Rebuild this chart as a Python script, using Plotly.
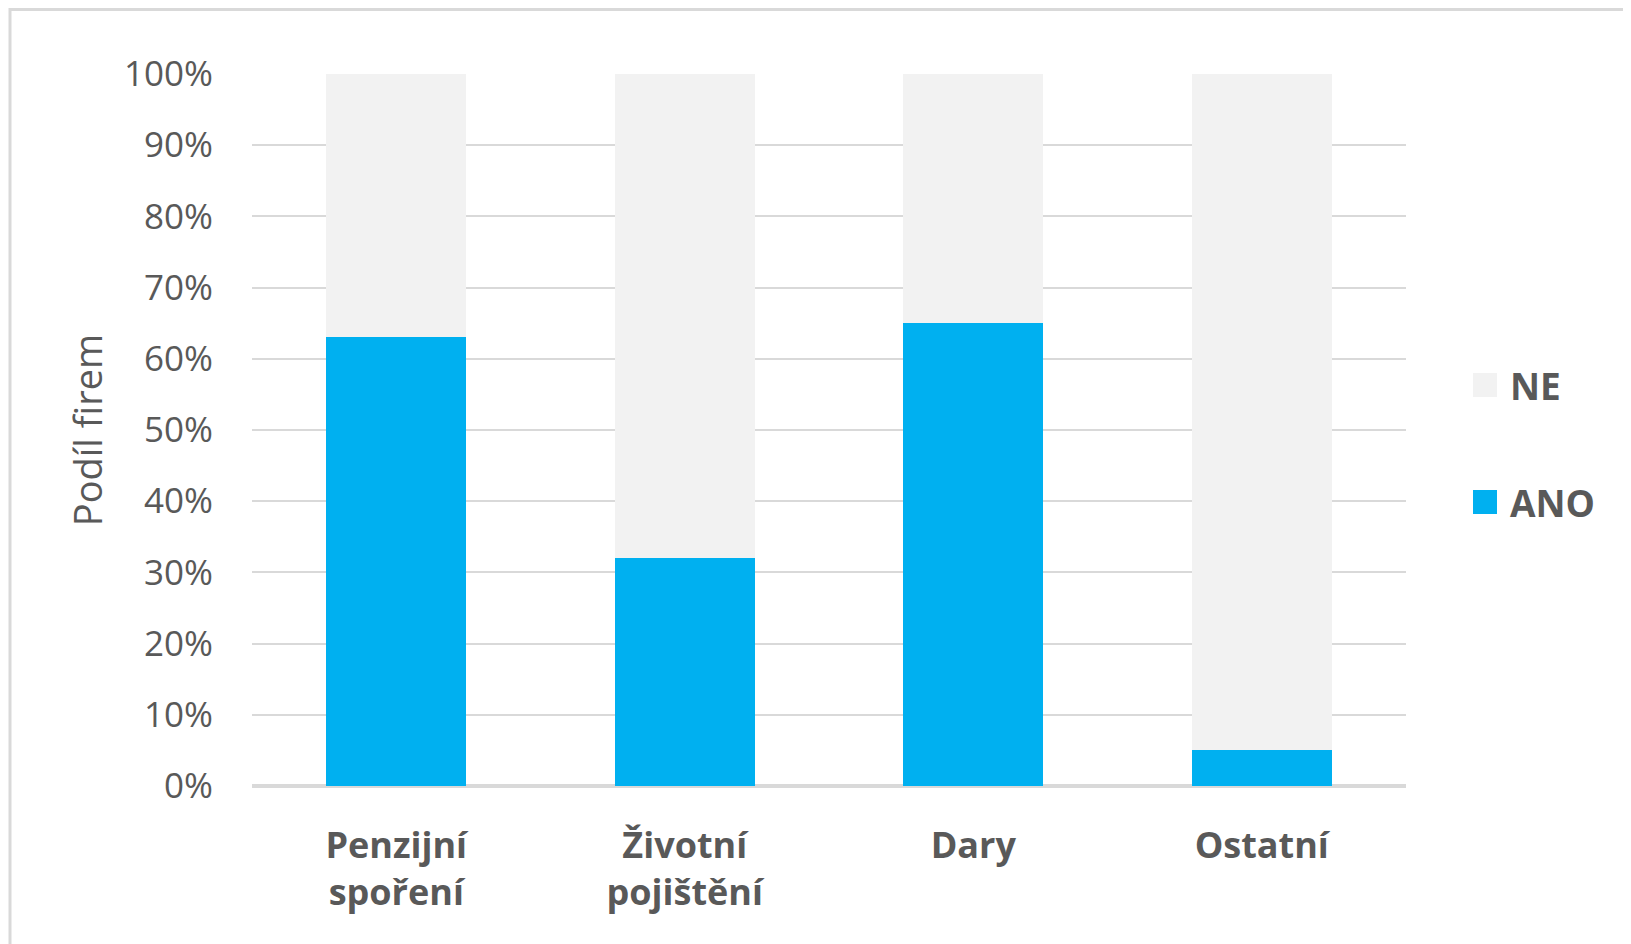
import plotly.graph_objects as go

categories = ["Penzijní<br>spoření", "Životní<br>pojištění", "Dary", "Ostatní"]
ano = [0.63, 0.32, 0.65, 0.05]
ne = [1 - v for v in ano]
series_names = ["NE", "ANO"]
tick_vals = [0, 0.1, 0.2, 0.3, 0.4, 0.5, 0.6, 0.7, 0.8, 0.9, 1.0]
tick_text = ["0%", "10%", "20%", "30%", "40%", "50%", "60%", "70%", "80%", "90%", "100%"]

C_ANO = "#00B0F0"
C_NE = "#F2F2F2"
TXT = "#595959"
GRID = "#D9D9D9"
FONT = "Open Sans"
series_colors = {"NE": C_NE, "ANO": C_ANO}

W, H = 1631, 944
OFF = 8  # page body margin offset
L, R, T, B = 252 - OFF, W - (1406 - OFF), 74 - OFF, H - (786 - OFF)
pw = W - L - R
ph = H - T - B


def px_x(x):
    # x is page pixel
    return (x - OFF - L) / pw


def px_y(y):
    return (H - B - (y - OFF)) / ph


fig = go.Figure()
fig.add_trace(go.Bar(x=categories, y=ano, name="ANO", marker=dict(color=C_ANO, line=dict(width=0)),
                     showlegend=False))
fig.add_trace(go.Bar(x=categories, y=ne, name="NE", marker=dict(color=C_NE, line=dict(width=0)),
                     showlegend=False))

shapes = [
    dict(type="rect", xref="paper", yref="paper",
         x0=px_x(10), x1=px_x(1629), y0=px_y(980), y1=px_y(9.5),
         line=dict(color=GRID, width=3), fillcolor="rgba(0,0,0,0)", layer="below"),
]
annotations = []
legend_y = {"NE": 385, "ANO": 502}
for name in series_names:
    cy = legend_y[name]
    shapes.append(dict(type="rect", xref="paper", yref="paper",
                       x0=px_x(1473), x1=px_x(1497), y0=px_y(cy + 12), y1=px_y(cy - 12),
                       line=dict(width=0), fillcolor=series_colors[name]))
    annotations.append(dict(xref="paper", yref="paper", x=px_x(1508), y=px_y(cy),
                            xanchor="left", yanchor="middle", showarrow=False, text=name,
                            font=dict(family=FONT, size=37, color=TXT, weight="bold")))

fig.update_layout(
    width=W, height=H,
    margin=dict(l=L, r=R, t=T, b=B, autoexpand=False),
    barmode="stack",
    bargap=0.515,
    plot_bgcolor="white",
    paper_bgcolor="white",
    showlegend=False,
    font=dict(family=FONT, color=TXT, size=35),
    xaxis=dict(
        showgrid=False,
        showline=False,
        zeroline=False,
        tickfont=dict(family=FONT, size=36, color=TXT, weight="bold"),
        ticks="",
        ticklabelstandoff=35,
        automargin=False,
    ),
    yaxis=dict(
        range=[0, 1],
        tickvals=tick_vals,
        ticktext=tick_text,
        showgrid=True,
        gridcolor=GRID,
        gridwidth=2,
        zeroline=True,
        zerolinecolor=GRID,
        zerolinewidth=4,
        showline=False,
        ticks="",
        ticklabelstandoff=38,
        tickfont=dict(family=FONT, size=35, color=TXT),
        title=dict(text="Podíl firem", font=dict(family=FONT, size=38, color=TXT), standoff=9),
        automargin=False,
    ),
    shapes=shapes,
    annotations=annotations,
)

fig.write_html("out.html")
